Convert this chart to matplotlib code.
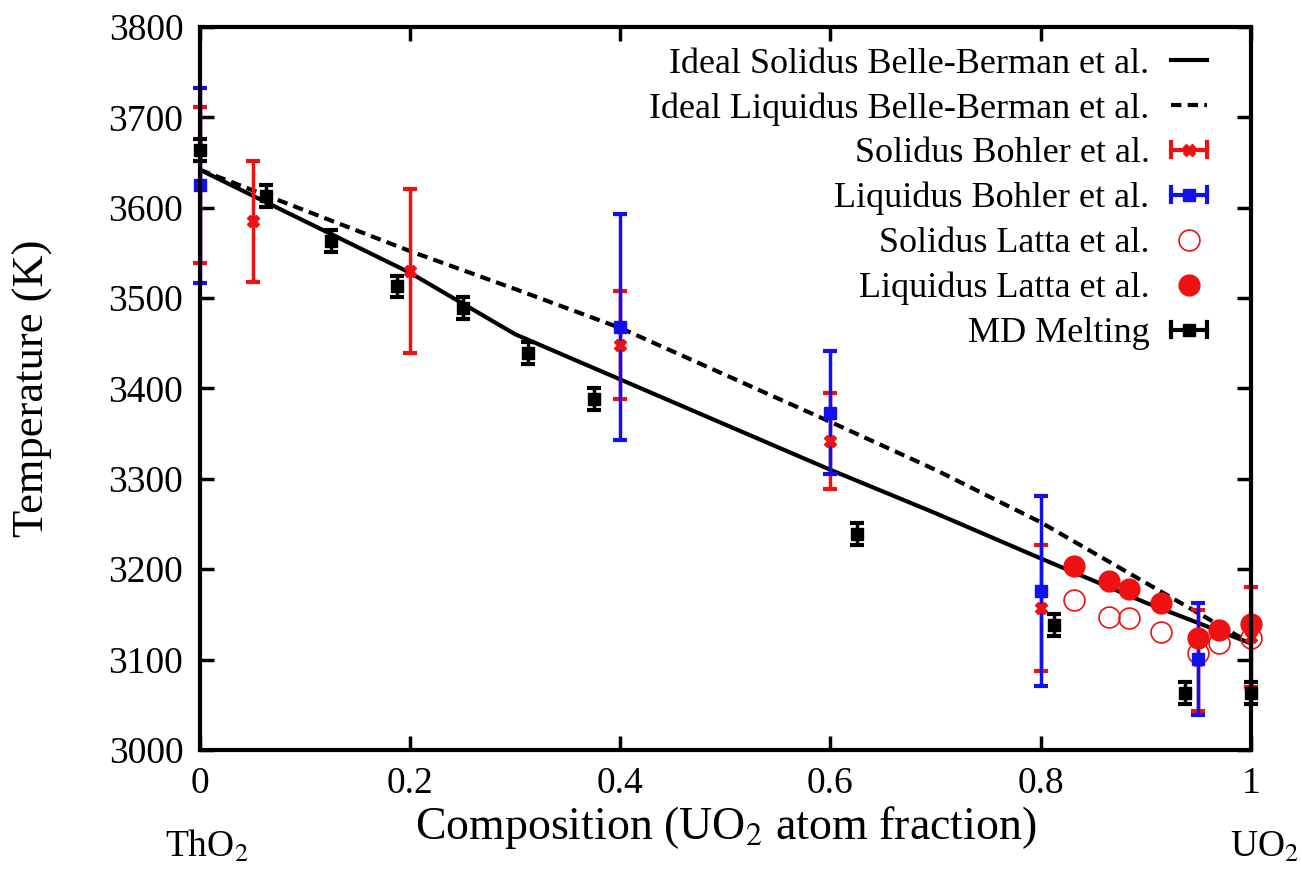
import matplotlib
matplotlib.use('Agg')
import matplotlib.pyplot as plt
from matplotlib.lines import Line2D
from matplotlib.legend_handler import HandlerBase

plt.rcParams['font.family'] = ['Liberation Serif', 'DejaVu Serif']
plt.rcParams['mathtext.fontset'] = 'stix'

# ideal Belle-Berman curves
ideal_x = [0.0, 0.1, 0.2, 0.3, 0.4, 0.5, 0.6, 0.7, 0.8, 0.9, 1.0]
ideal_solidus = [3642, 3585, 3528, 3460, 3410, 3360, 3310, 3262, 3212, 3163, 3118]
ideal_liquidus = [3642, 3597, 3552, 3510, 3467, 3415, 3363, 3310, 3252, 3185, 3118]

# Bohler et al.
bohler_sol_x = [0.0, 0.05, 0.2, 0.4, 0.6, 0.8, 0.95, 1.0]
bohler_sol_t = [3625, 3585, 3530, 3448, 3342, 3157, 3099, 3125]
bohler_sol_err = [86, 67, 91, 60, 53, 70, 56, 55]

bohler_liq_x = [0.0, 0.4, 0.6, 0.8, 0.95]
bohler_liq_t = [3625, 3468, 3373, 3176, 3101]
bohler_liq_err = [108, 125, 68, 105, 62]

# Latta et al.
latta_x = [0.832, 0.865, 0.884, 0.915, 0.950, 0.970, 1.0]
latta_sol = [3166, 3147, 3146, 3131, 3107, 3118, 3124]
latta_liq = [3204, 3187, 3178, 3163, 3124, 3133, 3139]

# MD melting
md_x = [0.0, 0.0625, 0.125, 0.1875, 0.25, 0.3125, 0.375, 0.625, 0.8125, 0.9375, 1.0]
md_t = [3664, 3613, 3563, 3513, 3489, 3439, 3388, 3239, 3138, 3063, 3063]
md_err = [12, 12, 12, 12, 12, 12, 12, 12, 12, 12, 12]

RED = '#ee1111'
BLUE = '#1111ee'


class HErr:
    # legend proxy: gnuplot style horizontal errorbar key
    def __init__(self, color, marker, ms):
        self.color = color
        self.marker = marker
        self.ms = ms


class HErrHandler(HandlerBase):
    def create_artists(self, legend, orig, xdescent, ydescent, width,
                       height, fontsize, trans):
        y = height / 2 - ydescent
        x0 = -xdescent
        x1 = x0 + width
        cap = height * 0.3
        arts = [
            Line2D([x0, x1], [y, y], color=orig.color, lw=3),
            Line2D([x0, x0], [y - cap, y + cap], color=orig.color, lw=3),
            Line2D([x1, x1], [y - cap, y + cap], color=orig.color, lw=3),
            Line2D([(x0 + x1) / 2], [y], marker=orig.marker, color=orig.color,
                   ms=orig.ms, ls='none'),
        ]
        for a in arts:
            a.set_transform(trans)
        return arts


fig = plt.figure(figsize=(13.02, 8.73), dpi=100)
ax = fig.add_axes([0.1536, 0.141, 0.807, 0.828])

l1, = ax.plot(ideal_x, ideal_solidus, color='black', lw=3)
l2, = ax.plot(ideal_x, ideal_liquidus, color='black', lw=3, ls=(0, (2.5, 1.5)))

ax.errorbar(bohler_sol_x, bohler_sol_t, yerr=bohler_sol_err, fmt='X',
            color=RED, ms=9, elinewidth=2.5, capsize=5, capthick=3,
            clip_on=False)
ax.errorbar(bohler_liq_x, bohler_liq_t, yerr=bohler_liq_err, fmt='s',
            color=BLUE, ms=9, elinewidth=2.5, capsize=5, capthick=3,
            clip_on=False)
l5, = ax.plot(latta_x, latta_sol, 'o', mfc='none', mec=RED, mew=1.2, ms=15,
              clip_on=False)
l6, = ax.plot(latta_x, latta_liq, 'o', color=RED, ms=15, clip_on=False)
ax.errorbar(md_x, md_t, yerr=md_err, fmt='s', color='black', ms=9,
            elinewidth=2.5, capsize=5, capthick=3, clip_on=False)

ax.set_xlim(0, 1)
ax.set_ylim(3000, 3800)
ax.set_xticks([0, 0.2, 0.4, 0.6, 0.8, 1.0])
ax.set_xticklabels(['0', '0.2', '0.4', '0.6', '0.8', '1'])
ax.set_yticks(range(3000, 3801, 100))
ax.tick_params(direction='in', length=10, width=2.5, labelsize=27,
               top=True, right=True, pad=12)
for sp in ax.spines.values():
    sp.set_linewidth(3)

ax.set_ylabel('Temperature (K)', fontsize=32, labelpad=40)
ax.set_xlabel('Composition (UO$_2$ atom fraction)', fontsize=33, labelpad=2)
fig.text(0.127, 0.018, 'ThO$_2$', fontsize=27)
fig.text(0.945, 0.018, 'UO$_2$', fontsize=27)

handles = [l1, l2, HErr(RED, 'X', 9), HErr(BLUE, 's', 9), l5, l6,
           HErr('black', 's', 9)]
labels = ['Ideal Solidus Belle-Berman et al.',
          'Ideal Liquidus Belle-Berman et al.',
          'Solidus Bohler et al.',
          'Liquidus Bohler et al.',
          'Solidus Latta et al.',
          'Liquidus Latta et al.',
          'MD Melting']
ax.legend(handles, labels, handler_map={HErr: HErrHandler()},
          loc='upper right', bbox_to_anchor=(1.0, 1.032), frameon=False,
          markerfirst=False, fontsize=26, handlelength=1.0,
          labelspacing=0.32, borderaxespad=0.8, handletextpad=0.6)

fig.savefig('out.png', dpi=100)
